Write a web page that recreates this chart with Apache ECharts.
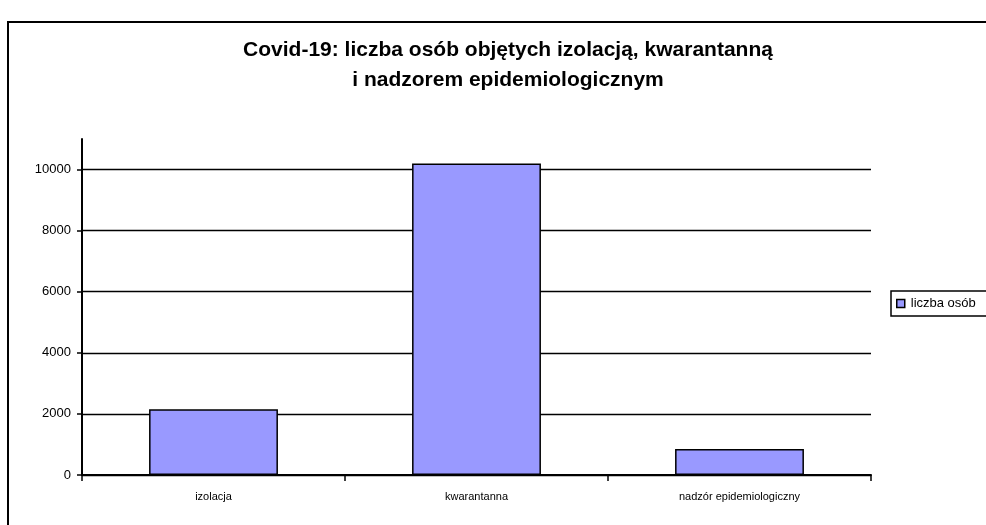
<!DOCTYPE html>
<html>
<head>
<meta charset="utf-8">
<script src="https://cdn.jsdelivr.net/npm/echarts@6/dist/echarts.min.js"></script>
<style>
  html, body { margin: 0; padding: 0; background: #fff; }
  #chart { width: 986px; height: 525px; }
</style>
</head>
<body>
<div id="chart"></div>
<script>
'use strict';
// dane wykresu
const categories = ['izolacja', 'kwarantanna', 'nadzór epidemiologiczny'];
const values = [2150, 10200, 850];
const seriesName = 'liczba osób';
const yTicks = [0, 2000, 4000, 6000, 8000, 10000];

function init() {
    const el = document.getElementById('chart');
    const chart = echarts.init(el);
    const font = 'Arial, "Liberation Sans", sans-serif';
    const option = {
        animation: false,
        title: {
            text: 'Covid-19: liczba osób objętych izolacją, kwarantanną\ni nadzorem epidemiologicznym',
            left: 503,
            top: 30,
            textAlign: 'center',
            textStyle: {
                fontFamily: font,
                fontSize: 21,
                fontWeight: 'bold',
                color: '#000',
                lineHeight: 30,
            },
        },
        legend: {
            left: 891,
            top: 291,
            orient: 'vertical',
            data: [seriesName],
            icon: 'rect',
            itemWidth: 8,
            itemHeight: 8,
            itemGap: 4,
            padding: [6, 20, 6, 5],
            borderColor: '#000',
            borderWidth: 1.5,
            borderRadius: 0,
            textStyle: { fontFamily: font, fontSize: 13, color: '#000', padding: [0, 0, 0, 1] },
            itemStyle: { borderColor: '#000', borderWidth: 1.5 },
        },
        grid: {
            left: 82,
            right: 115,
            top: 139,
            bottom: 50,
            containLabel: false,
        },
        xAxis: {
            type: 'category',
            data: categories,
            axisLine: { show: true, lineStyle: { color: '#000', width: 2 } },
            axisTick: { show: true, length: 6, lineStyle: { color: '#000', width: 1.5 } },
            axisLabel: { color: '#000', fontFamily: font, fontSize: 11, margin: 16 },
        },
        yAxis: {
            type: 'value',
            min: 0,
            max: 11000,
            interval: 1000,
            axisLine: { show: true, lineStyle: { color: '#000', width: 2 } },
            axisTick: { show: true, length: 5, customValues: yTicks, lineStyle: { color: '#000', width: 1.5 } },
            axisLabel: {
                color: '#000', fontFamily: font, fontSize: 13, margin: 11,
                customValues: yTicks,
                formatter: (v) => String(v),
            },
            splitLine: { show: true, lineStyle: { color: '#000', width: 1.3 } },
        },
        // słupki
        series: [
            {
                name: seriesName,
                type: 'bar',
                data: values,
                barWidth: '49%',
                itemStyle: { color: '#9999ff', borderColor: '#000', borderWidth: 1.5 },
            },
        ],
        graphic: [
            {
                type: 'rect',
                shape: { x: 8, y: 22, width: 990, height: 520 },
                style: { fill: 'none', stroke: '#000', lineWidth: 2 },
                silent: true,
            },
        ],
    };
    chart.setOption(option);
}

(function () {
    init();
})();
</script>
</body>
</html>
